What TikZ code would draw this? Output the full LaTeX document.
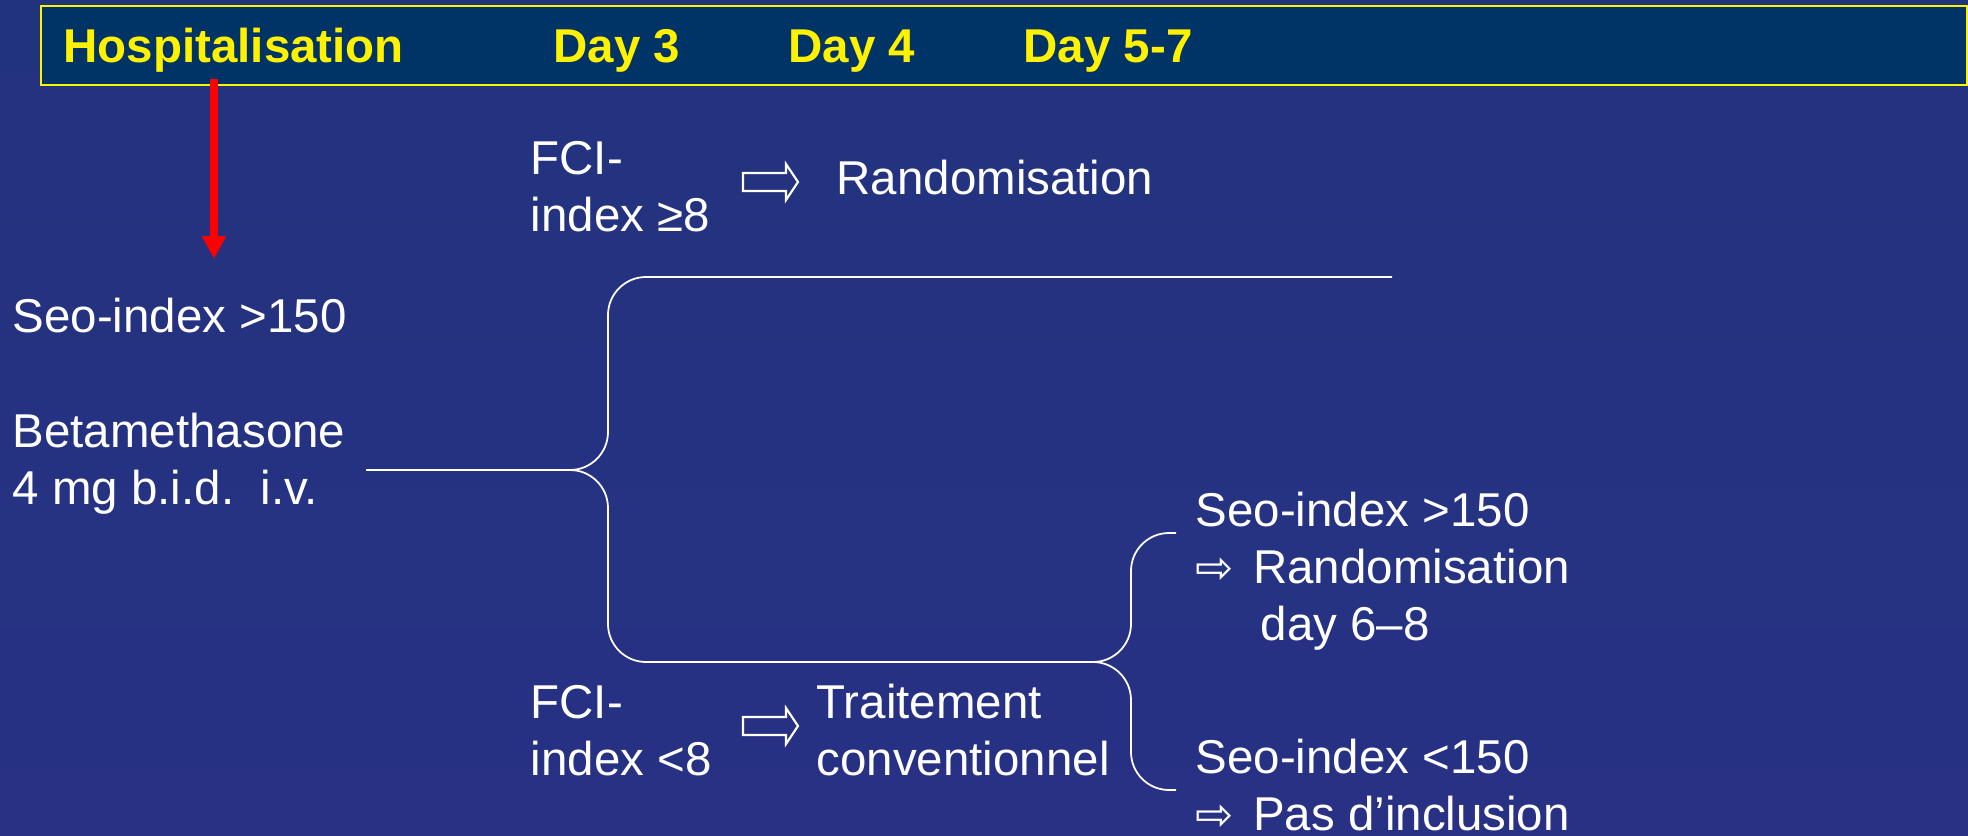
\documentclass[tikz,border=0pt]{standalone}
\usepackage{fontspec}
\setmainfont{Liberation Sans}
\newfontfamily\arrowfont{DejaVu Sans}
\usetikzlibrary{arrows.meta}
\definecolor{bgtop}{RGB}{34,51,126}
\definecolor{bgmid}{RGB}{51,51,153}
\definecolor{bgbot}{RGB}{40,49,132}
\definecolor{headblue}{RGB}{0,51,102}
\newcommand{\wa}{{\arrowfont\fontsize{13}{14}\selectfont ⇨}\hspace{0.06cm}}

\begin{document}
\begin{tikzpicture}[x=0.01cm, y=-0.01cm, font=\fontsize{13.5}{16.2}\selectfont, txt/.style={text=white, anchor=base west, inner sep=0pt, align=left}, day/.style={text=yellow, font=\fontsize{13.5}{16.2}\selectfont\bfseries, anchor=base west, inner sep=0pt}, brace/.style={draw=white, line width=0.5pt, rounded corners=0.38cm}, hollow/.style={draw=white, line width=0.6pt}]
                \useasboundingbox (0,0) rectangle (1968,836);
                \shade[top color=bgtop, middle color=bgmid, bottom color=bgbot] (0,0) rectangle (1968,836);
                \draw[yellow, line width=0.6pt, fill=headblue] (41,6) rectangle (1967,85);
                % nodes (multi-line nodes sit on their last line)
                \node[day] (hosp) at (63,62) {Hospitalisation};
                \node[day] (d3) at (553,62) {Day 3};
                \node[day] (d4) at (788,62) {Day 4};
                \node[day] (d57) at (1023,62) {Day 5-7};
                \node[txt] (seo) at (12,332) {Seo-index >150};
                \node[txt] (beta) at (12,504) {Betamethasone\\4 mg b.i.d.\ \ i.v.};
                \node[txt] (fcihi) at (530,231) {FCI-\\index ≥8};
                \node[txt] (rand) at (836,194) {Randomisation};
                \node[txt] (fcilo) at (530,775) {FCI-\\index <8};
                \node[txt] (trait) at (816,775) {Traitement\\conventionnel};
                \node[txt] (seohi) at (1195,640) {Seo-index >150\\\wa\ Randomisation\\\hspace*{0.65cm}day 6–8};
                \node[txt] (seolo) at (1195,830) {Seo-index <150\\\wa\ Pas d’inclusion};
                \coordinate (start) at (366,470);
                \coordinate (tip1) at (569,470);
                \coordinate (b1top) at (608,277);
                \coordinate (topend) at (1392,277);
                \coordinate (b1bot) at (608,662);
                \coordinate (tip2) at (1091,662);
                \coordinate (b2top) at (1131,533);
                \coordinate (b2topend) at (1176,533);
                \coordinate (b2bot) at (1131,790);
                \coordinate (b2botend) at (1176,790);
                \coordinate (redtop) at (214,79);
                \coordinate (redtip) at (214,259);
                \coordinate (ar1) at (743,182);
                \coordinate (ar2) at (743,726);
                % edges
                \draw[red, line width=2pt, -{Triangle[width=6.5pt, length=6.5pt]}] (redtop) -- (redtip);
                \draw[white, line width=0.5pt] (start) -- (tip1);
                \draw[brace] (tip1) -| (b1top) -- (topend);
                \draw[brace] (tip1) -| (b1bot) -- (tip2);
                \draw[brace] (tip2) -| (b2top) -- (b2topend);
                \draw[brace] (tip2) -| (b2bot) -- (b2botend);
                \draw[hollow] (ar1) ++(0,-9) -- ++(43,0) -- ++(0,-9) -- ++(12,18) -- ++(-12,18) -- ++(0,-9) -- ++(-43,0) -- cycle;
                \draw[hollow] (ar2) ++(0,-9) -- ++(43,0) -- ++(0,-9) -- ++(12,18) -- ++(-12,18) -- ++(0,-9) -- ++(-43,0) -- cycle;
            \end{tikzpicture}
\end{document}
